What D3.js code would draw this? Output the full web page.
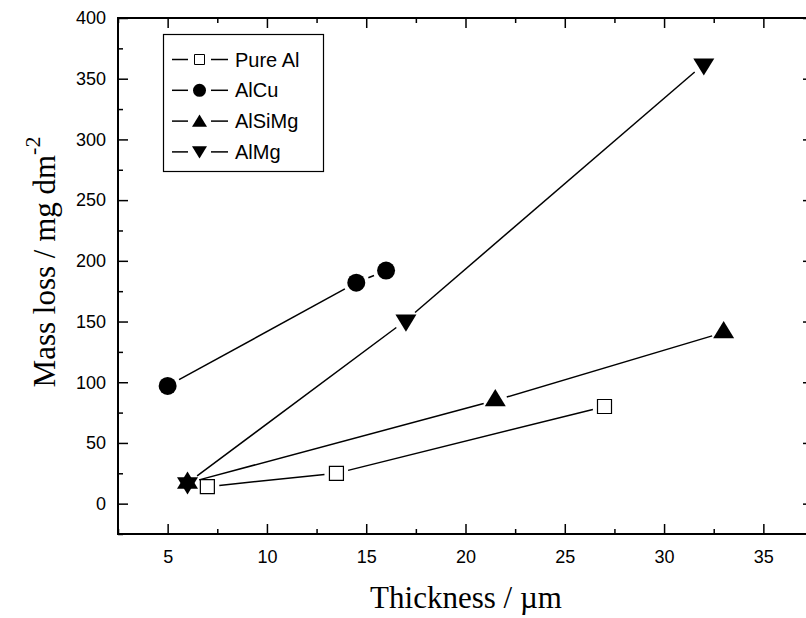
<!DOCTYPE html>
<html>
<head>
<meta charset="utf-8">
<script src="https://cdn.jsdelivr.net/npm/d3@7"></script>
<style>
  body { margin: 0; background: #fff; }
  svg { display: block; }
</style>
</head>
<body>
<div id="chart"></div>
<script>
// data
var seriesNames = ["Pure Al", "AlCu", "AlSiMg", "AlMg"]
var pureAlX = [7, 13.5, 27]
var pureAlY = [14, 25, 80]
var alCuX = [5, 14.5, 16]
var alCuY = [97, 182, 192]
var alSiMgX = [6, 21.5, 33]
var alSiMgY = [17, 85, 141]
var alMgX = [6, 17, 32]
var alMgY = [17, 151, 362]
var xTicks = [5, 10, 15, 20, 25, 30, 35]
var yTicks = [0, 50, 100, 150, 200, 250, 300, 350, 400]

var width = 806
var height = 618
var margin = { left: 118, top: 18, right: -7, bottom: 84 }

var svg = d3.select("#chart")
    .append("svg")
    .attr("width", width)
    .attr("height", height)

var x = d3.scaleLinear()
    .domain([2.5, 37.5])
    .range([margin.left, width - margin.right])
var y = d3.scaleLinear()
    .domain([-25, 400])
    .range([height - margin.bottom, margin.top])

var sans = "'Liberation Sans', Arial, sans-serif"
var serif = "'Liberation Serif', 'Times New Roman', serif"

// inward ticks on all four sides
var xMinor = d3.range(2.5, 37.6, 2.5).filter(function(v) { return xTicks.indexOf(v) < 0 })
var yMinor = d3.range(-25, 401, 25).filter(function(v) { return yTicks.indexOf(v) < 0 })

function addAxis(axis, tr) {
    var g = svg.append("g").attr("transform", tr).call(axis)
    g.select(".domain").remove()
    g.selectAll("line").attr("stroke", "#000").attr("stroke-width", 1.5)
    return g
}

var bx = addAxis(d3.axisBottom(x).tickValues(xTicks).tickSizeInner(-10).tickSizeOuter(0).tickPadding(16),
    "translate(0," + y(-25) + ")")
bx.selectAll("text").attr("font-family", sans).attr("font-size", 18).attr("fill", "#000")
addAxis(d3.axisBottom(x).tickValues(xMinor).tickSize(-5).tickFormat(""), "translate(0," + y(-25) + ")")
addAxis(d3.axisTop(x).tickValues(xTicks).tickSize(-10).tickFormat(""), "translate(0," + y(400) + ")")
addAxis(d3.axisTop(x).tickValues(xMinor).tickSize(-5).tickFormat(""), "translate(0," + y(400) + ")")

var ly = addAxis(d3.axisLeft(y).tickValues(yTicks).tickSizeInner(-10).tickSizeOuter(0).tickPadding(12),
    "translate(" + x(2.5) + ",0)")
ly.selectAll("text").attr("font-family", sans).attr("font-size", 18).attr("fill", "#000")
addAxis(d3.axisLeft(y).tickValues(yMinor).tickSize(-5).tickFormat(""), "translate(" + x(2.5) + ",0)")
addAxis(d3.axisRight(y).tickValues(yTicks).tickSize(-10).tickFormat(""), "translate(" + x(37.5) + ",0)")
addAxis(d3.axisRight(y).tickValues(yMinor).tickSize(-5).tickFormat(""), "translate(" + x(37.5) + ",0)")

// frame
svg.append("rect")
    .attr("x", x(2.5)).attr("y", y(400))
    .attr("width", x(37.5) - x(2.5)).attr("height", y(-25) - y(400))
    .attr("fill", "none").attr("stroke", "#000").attr("stroke-width", 2)

// marker shapes, triangles centred on their centroid
function markerPath(type, s) {
    if (type == "square") return "M" + (-s / 2) + "," + (-s / 2) + "h" + s + "v" + s + "h" + (-s) + "Z"
    var h = s * 0.82
    if (type == "up") return "M0," + (-2 * h / 3) + "L" + (s / 2) + "," + (h / 3) + "L" + (-s / 2) + "," + (h / 3) + "Z"
    if (type == "down") return "M0," + (2 * h / 3) + "L" + (s / 2) + "," + (-h / 3) + "L" + (-s / 2) + "," + (-h / 3) + "Z"
    return d3.symbol(d3.symbolCircle, Math.PI * s * s / 4)()
}

var series = [
    { name: seriesNames[0], xs: pureAlX, ys: pureAlY, type: "square", size: 14, gap: 12 },
    { name: seriesNames[1], xs: alCuX, ys: alCuY, type: "circle", size: 18, gap: 13 },
    { name: seriesNames[2], xs: alSiMgX, ys: alSiMgY, type: "up", size: 21, gap: 12 },
    { name: seriesNames[3], xs: alMgX, ys: alMgY, type: "down", size: 21, gap: 12 }
]

series.forEach(function(s) {
    var pts = s.xs.map(function(v, i) { return [x(v), y(s.ys[i])] })
    // segments stop short of the markers
    for (var i = 0; i < pts.length - 1; i++) {
        var a = pts[i], b = pts[i + 1]
        var dx = b[0] - a[0], dy = b[1] - a[1]
        var len = Math.sqrt(dx * dx + dy * dy)
        if (len <= 2 * s.gap) continue
        var ux = dx / len, uy = dy / len
        svg.append("line")
            .attr("x1", a[0] + ux * s.gap).attr("y1", a[1] + uy * s.gap)
            .attr("x2", b[0] - ux * s.gap).attr("y2", b[1] - uy * s.gap)
            .attr("stroke", "#000").attr("stroke-width", 1.5)
    }
    svg.selectAll(null)
        .data(pts)
        .enter()
        .append("path")
        .attr("d", markerPath(s.type, s.size))
        .attr("transform", function(d) { return "translate(" + d[0] + "," + d[1] + ")" })
        .attr("fill", s.type == "square" ? "#fff" : "#000")
        .attr("stroke", "#000")
        .attr("stroke-width", s.type == "square" ? 1.2 : 0)
})

// legend
var legend = svg.append("g")
legend.append("rect")
    .attr("x", 163.5).attr("y", 34.5).attr("width", 160).attr("height", 137)
    .attr("fill", "#fff").attr("stroke", "#000").attr("stroke-width", 1.2)

var legendSize = { square: 10, circle: 13, up: 15, down: 15 }
series.forEach(function(s, i) {
    var cy = 59.5 + i * 30.8
    var g = legend.append("g")
    g.append("line").attr("x1", 172).attr("x2", 188).attr("y1", cy).attr("y2", cy)
        .attr("stroke", "#000").attr("stroke-width", 1.5)
    g.append("line").attr("x1", 211).attr("x2", 228).attr("y1", cy).attr("y2", cy)
        .attr("stroke", "#000").attr("stroke-width", 1.5)
    g.append("path")
        .attr("d", markerPath(s.type, legendSize[s.type]))
        .attr("transform", "translate(199.5," + (cy + (s.type == "up" ? 1.5 : s.type == "down" ? -1.5 : 0)) + ")")
        .attr("fill", s.type == "square" ? "#fff" : "#000")
        .attr("stroke", "#000")
        .attr("stroke-width", s.type == "square" ? 1 : 0)
    g.append("text")
        .attr("x", 235).attr("y", cy + 7)
        .attr("font-family", sans).attr("font-size", 20)
        .text(s.name)
})

// axis titles
svg.append("text")
    .attr("x", 466).attr("y", 608)
    .attr("text-anchor", "middle")
    .attr("font-family", serif).attr("font-size", 31)
    .text("Thickness / \u00b5m")

var yt = svg.append("text")
    .attr("transform", "translate(55,262) rotate(-90)")
    .attr("text-anchor", "middle")
    .attr("font-family", serif).attr("font-size", 31)
yt.append("tspan").text("Mass loss / mg dm")
yt.append("tspan").attr("dy", -15).attr("font-size", 22).text("-2")
</script>
</body>
</html>
